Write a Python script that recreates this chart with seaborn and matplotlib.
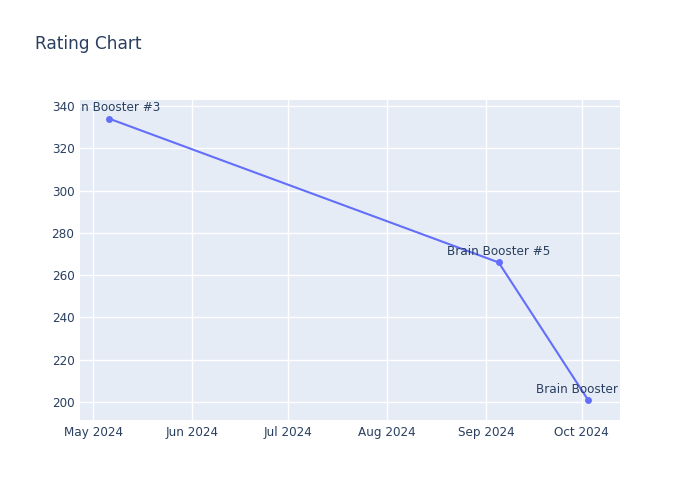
import matplotlib
matplotlib.use("Agg")
import matplotlib.pyplot as plt
import matplotlib.dates as mdates
import seaborn as sns
import pandas as pd

dates = ["2024-05-06", "2024-09-05", "2024-10-03"]
ratings = [334, 266, 201]
labels = ["Brain Booster #3", "Brain Booster #5", "Brain Booster #6"]
title = "Rating Chart"
yticks = [200, 220, 240, 260, 280, 300, 320, 340]
xticks = ["2024-05-01", "2024-06-01", "2024-07-01", "2024-08-01", "2024-09-01", "2024-10-01"]

df = pd.DataFrame({"date": pd.to_datetime(dates), "rating": ratings, "label": labels})

sns.set_theme(style="darkgrid", rc={
    "axes.facecolor": "#E5ECF6",
    "grid.color": "white",
    "grid.linewidth": 1.0,
    "axes.edgecolor": "#E5ECF6",
})
plt.rcParams["font.family"] = ["DejaVu Sans"]
text_color = "#2a3f5f"

fig = plt.figure(figsize=(7, 5), dpi=100)
ax = fig.add_axes([80 / 700, 1 - 420 / 500, 540 / 700, 320 / 500])

sns.lineplot(data=df, x="date", y="rating", ax=ax, color="#636EFA",
             marker="o", markersize=5, markeredgewidth=0, linewidth=1.5)

for d, r, lab in zip(df["date"], df["rating"], df["label"]):
    t = ax.annotate(lab, (d, r), xytext=(0, 3), textcoords="offset points",
                    ha="center", va="bottom", fontsize=8.64, color=text_color,
                    annotation_clip=False)
    t.set_clip_on(True)
    t.set_clip_box(ax.bbox)

ax.set_ylim(191.5, 342.8)
ax.set_xlim(pd.Timestamp("2024-04-26 22:00"), pd.Timestamp("2024-10-13"))
ax.set_yticks(yticks)
ax.set_xticks(pd.to_datetime(xticks))
ax.xaxis.set_major_formatter(mdates.DateFormatter("%b %Y"))
ax.tick_params(axis="both", length=0, labelsize=8.64, labelcolor=text_color, pad=4)
ax.set_xlabel("")
ax.set_ylabel("")
for s in ax.spines.values():
    s.set_visible(False)

fig.text(35 / 700, 1 - 44 / 500, title, fontsize=12.24, color=text_color,
         ha="left", va="center")

fig.savefig("out.png", dpi=100)
